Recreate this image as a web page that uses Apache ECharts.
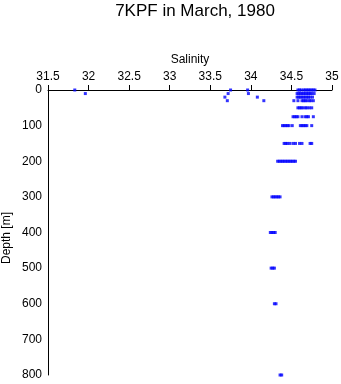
<!DOCTYPE html>
<html>
<head>
<meta charset="utf-8">
<script src="https://cdn.jsdelivr.net/npm/echarts@6/dist/echarts.min.js"></script>
<style>html,body{margin:0;padding:0;background:#fff;}#c{width:341px;height:384px;}</style>
</head>
<body>
<div id="c"></div>
<script>
const titleText = "7KPF in March, 1980";
const xName = "Salinity";
const yName = "Depth [m]";
const depths = [0, 10, 20, 30, 50, 75, 100, 150, 200, 300, 400, 500, 600, 800];
const sal0 = [31.83, 33.75, 33.96, 34.58, 34.60, 34.62, 34.65, 34.67, 34.69, 34.71, 34.73, 34.75, 34.77, 34.79];
const sal10 = [31.96, 33.72, 33.97, 34.57, 34.59, 34.61, 34.63, 34.65, 34.67, 34.69, 34.71, 34.73, 34.75, 34.78];
const sal20 = [33.68, 34.08, 34.57, 34.59, 34.61, 34.63, 34.65, 34.67, 34.69, 34.71, 34.73, 34.76];
const sal30 = [33.71, 34.16, 34.53, 34.58, 34.63, 34.65, 34.67, 34.69, 34.72, 34.74, 34.77];
const sal50 = [34.58, 34.60, 34.62, 34.64, 34.67, 34.69, 34.72, 34.75];
const sal75 = [34.52, 34.54, 34.56, 34.58, 34.63, 34.67, 34.69, 34.71, 34.77];
const sal100 = [34.39, 34.41, 34.43, 34.45, 34.47, 34.51, 34.61, 34.63, 34.65, 34.67, 34.69, 34.75];
const sal150 = [34.41, 34.43, 34.45, 34.48, 34.52, 34.55, 34.60, 34.63, 34.73, 34.75];
const sal200 = [34.33, 34.35, 34.37, 34.39, 34.41, 34.43, 34.45, 34.47, 34.49, 34.51, 34.53, 34.55];
const sal300 = [34.26, 34.28, 34.30, 34.32, 34.34, 34.36];
const sal400 = [34.24, 34.26, 34.28, 34.30];
const sal500 = [34.25, 34.27, 34.29];
const sal600 = [34.29, 34.31];
const sal800 = [34.36, 34.38];
const salByDepth = [sal0, sal10, sal20, sal30, sal50, sal75, sal100, sal150, sal200, sal300, sal400, sal500, sal600, sal800];

const points = [];
depths.forEach((d, i) => salByDepth[i].forEach(s => points.push([s, d])));

const chart = echarts.init(document.getElementById('c'), null, {renderer: 'canvas'});
const font = 'Liberation Sans, Arial, sans-serif';
chart.setOption({
  animation: false,
  backgroundColor: '#fff',
  title: {
    text: titleText, left: 190, top: -2, textAlign: 'center',
    textStyle: {fontFamily: font, fontSize: 17, fontWeight: 'normal', color: '#000'}
  },
  graphic: [
    {type: 'text', x: 190, y: 60, style: {text: xName, font: '12px ' + font, fill: '#000', align: 'center', verticalAlign: 'middle'}},
    {type: 'text', x: 7, y: 238, rotation: Math.PI / 2, style: {text: yName, font: '12px ' + font, fill: '#000', align: 'center', verticalAlign: 'middle'}}
  ],
  grid: {left: 48, right: 9, top: 90, bottom: 9, containLabel: false, outerBoundsMode: 'none'},
  xAxis: {
    type: 'value', position: 'top', min: 31.5, max: 35, interval: 0.5,
    axisLine: {show: true, onZero: false, lineStyle: {color: '#000', width: 1}},
    axisTick: {show: true, length: 5, lineStyle: {color: '#000'}},
    axisLabel: {fontFamily: font, fontSize: 12, color: '#000', margin: 7, showMinLabel: true, showMaxLabel: true},
    splitLine: {show: false}
  },
  yAxis: {
    type: 'value', inverse: true, min: 0, max: 800, interval: 100,
    axisLine: {show: true, onZero: false, lineStyle: {color: '#000', width: 1}},
    axisTick: {show: false},
    axisLabel: {fontFamily: font, fontSize: 12, color: '#000', margin: 6},
    splitLine: {show: false}
  },
  series: [{
    type: 'scatter',
    data: points,
    symbol: 'rect',
    symbolSize: [3, 3],
    itemStyle: {color: '#0000ff'}
  }]
});
</script>
</body>
</html>
